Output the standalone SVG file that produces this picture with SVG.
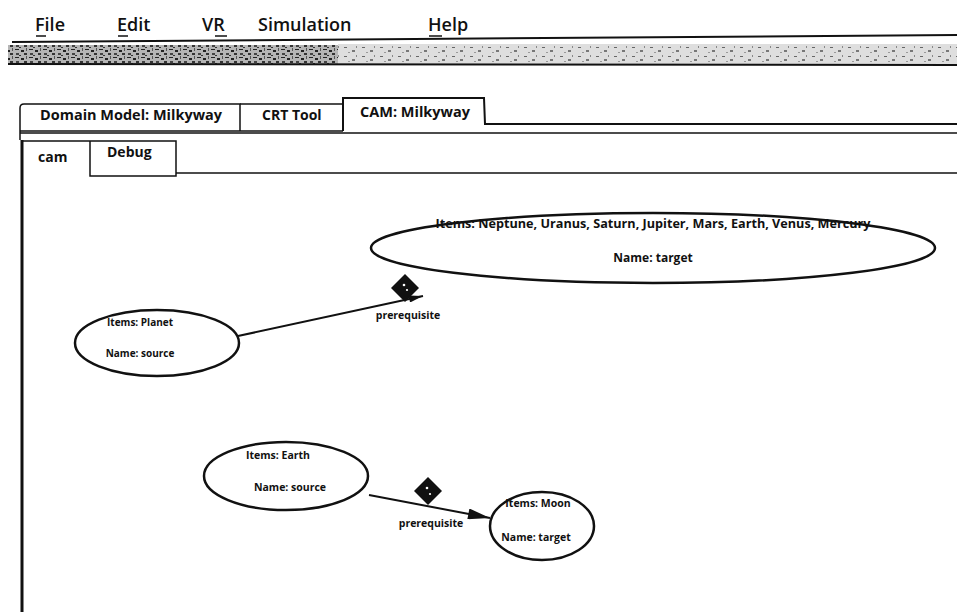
<svg xmlns="http://www.w3.org/2000/svg" width="957" height="612" viewBox="0 0 957 612">
  <defs>
    <style>
      .menu { font-family: "Open Sans", "Liberation Sans", sans-serif; font-size: 18px; font-weight: 600; fill: #111; }
      .tab { font-family: "Open Sans", "Liberation Sans", sans-serif; font-size: 14px; font-weight: 700; fill: #111; }
      .node { font-family: "Open Sans", "Liberation Sans", sans-serif; font-size: 10.5px; font-weight: 700; fill: #111; text-anchor: middle; }
      .big { font-size: 12px; }
      .small { font-size: 10px; }
      .lbl { font-family: "Open Sans", "Liberation Sans", sans-serif; font-size: 10.5px; font-weight: 700; fill: #111; text-anchor: middle; }
      .ell { fill: #fff; stroke: #111; stroke-width: 2.5; }
      .edge { stroke: #111; stroke-width: 2; fill: none; }
      .ln { stroke: #111; fill: none; }
      .dia { fill: #111; }
    </style>
    <marker id="arr" viewBox="0 0 20 10" refX="20" refY="5" markerWidth="26" markerHeight="11" markerUnits="userSpaceOnUse" orient="auto">
      <path d="M0,0 L20,5 L0,10 Z" fill="#111"/>
    </marker>
    <marker id="arrThin" viewBox="0 0 20 10" refX="20" refY="5" markerWidth="28" markerHeight="7" markerUnits="userSpaceOnUse" orient="auto">
      <path d="M0,0 L20,5 L0,10 Z" fill="#111"/>
    </marker>
    <pattern id="noise" width="14" height="8" patternUnits="userSpaceOnUse">
      <rect width="14" height="8" fill="#b5b5b5"/>
      <rect x="1" y="1" width="4" height="1" fill="#222"/>
      <rect x="7" y="2" width="3" height="2" fill="#222"/>
      <rect x="10" y="5" width="3" height="2" fill="#333"/>
      <rect x="2" y="5" width="3" height="2" fill="#444"/>
      <rect x="12" y="0" width="1" height="3" fill="#555"/>
      <rect x="5" y="7" width="2" height="1" fill="#333"/>
    </pattern>
    <pattern id="noise2" width="18" height="9" patternUnits="userSpaceOnUse">
      <rect width="18" height="9" fill="#dedede"/>
      <rect x="2" y="2" width="3" height="1" fill="#666"/>
      <rect x="10" y="5" width="3" height="2" fill="#777"/>
      <rect x="14" y="1" width="1" height="2" fill="#888"/>
      <rect x="6" y="7" width="2" height="1" fill="#999"/>
    </pattern>
  </defs>
  <rect width="957" height="612" fill="#fff"/>

  <!-- menu bar -->
  <g id="menu">
    <text class="menu" x="35" y="31">File</text>
    <text class="menu" x="117" y="31">Edit</text>
    <text class="menu" x="202" y="31">VR</text>
    <text class="menu" x="258" y="31">Simulation</text>
    <text class="menu" x="428" y="31">Help</text>
    <line class="ln" x1="36" y1="36" x2="46" y2="36" stroke-width="1.5"/>
    <line class="ln" x1="118" y1="36" x2="128" y2="36" stroke-width="1.5"/>
    <line class="ln" x1="215" y1="36" x2="227" y2="36" stroke-width="1.5"/>
    <line class="ln" x1="429" y1="36" x2="442" y2="36" stroke-width="1.5"/>
  </g>

  <!-- toolbar -->
  <g id="toolbar">
    <line class="ln" x1="12" y1="42" x2="957" y2="35" stroke-width="2"/>
    <rect x="8" y="45" width="330" height="19" fill="url(#noise)"/>
    <rect x="338" y="44" width="619" height="20" fill="url(#noise2)"/>
    <line class="ln" x1="8" y1="64" x2="957" y2="65" stroke-width="2"/>
  </g>

  <!-- outer tabs -->
  <g id="tabs">
    <path class="ln" stroke-width="1.5" d="M20,140 L20,108 Q20,104 24,104 L240,104 L240,131"/>
    <path class="ln" stroke-width="1.5" d="M240,104 L343,104"/>
    <path class="ln" stroke-width="2" d="M343,131 L343,98 L484,98 L485,124 L957,124"/>
    <line class="ln" x1="20" y1="131" x2="343" y2="131" stroke-width="1.5"/>
    <line class="ln" x1="20" y1="133" x2="957" y2="133" stroke-width="1.5"/>
    <text class="tab" x="40" y="120" textLength="182" lengthAdjust="spacingAndGlyphs">Domain Model: Milkyway</text>
    <text class="tab" x="262" y="120">CRT Tool</text>
    <text class="tab" x="360" y="117" textLength="110" lengthAdjust="spacingAndGlyphs">CAM: Milkyway</text>
  </g>

  <!-- inner tabs -->
  <g id="subtabs">
    <path class="ln" stroke-width="1.5" d="M22,141 L90,141 L90,176 L176,176 L176,141 L90,141"/>
    <line class="ln" x1="176" y1="173" x2="957" y2="173" stroke-width="1.5"/>
    <line class="ln" x1="22" y1="140" x2="22" y2="612" stroke-width="3"/>
    <text class="tab" x="38" y="162">cam</text>
    <text class="tab" x="107" y="157">Debug</text>
  </g>

  <!-- connectors -->
  <g id="connectors">
    <line class="edge" x1="238" y1="336" x2="423" y2="296" marker-end="url(#arrThin)"/>
    <path class="dia" d="M405,274 L419,288 L405,302 L391,288 Z"/>
    <circle cx="404" cy="285" r="1.3" fill="#fff"/>
    <circle cx="407" cy="290" r="1.1" fill="#fff"/>
    <text class="lbl" x="408" y="319">prerequisite</text>

    <line class="edge" x1="369" y1="495" x2="490" y2="518" marker-end="url(#arr)"/>
    <path class="dia" d="M428,477 L442,491 L428,505 L414,491 Z"/>
    <circle cx="427" cy="488" r="1.3" fill="#fff"/>
    <circle cx="430" cy="494" r="1.1" fill="#fff"/>
    <text class="lbl" x="431" y="527">prerequisite</text>
  </g>

  <!-- nodes -->
  <g id="node-target-planets">
    <ellipse class="ell" cx="653" cy="248" rx="282" ry="35"/>
    <text class="node big" x="653" y="228" textLength="435" lengthAdjust="spacingAndGlyphs">Items: Neptune, Uranus, Saturn, Jupiter, Mars, Earth, Venus, Mercury</text>
    <text class="node big" x="653" y="262">Name: target</text>
  </g>
  <g id="node-source-planet">
    <ellipse class="ell" cx="157" cy="343" rx="82" ry="33"/>
    <text class="node small" x="140" y="326">Items: Planet</text>
    <text class="node small" x="140" y="357">Name: source</text>
  </g>
  <g id="node-source-earth">
    <ellipse class="ell" cx="286" cy="476" rx="82" ry="34"/>
    <text class="node" x="278" y="459">Items: Earth</text>
    <text class="node" x="290" y="491">Name: source</text>
  </g>
  <g id="node-target-moon">
    <ellipse class="ell" cx="542" cy="526" rx="52" ry="34"/>
    <text class="node" x="538" y="507">Items: Moon</text>
    <text class="node" x="536" y="541">Name: target</text>
  </g>
</svg>
